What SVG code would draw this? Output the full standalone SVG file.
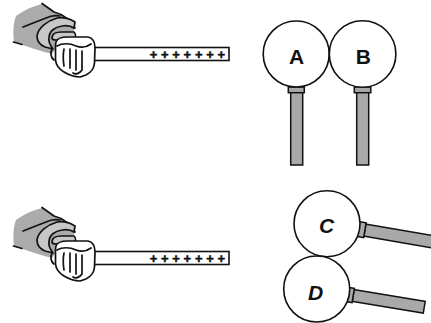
<svg xmlns="http://www.w3.org/2000/svg" width="431" height="323" viewBox="0 0 431 323">
  <style>
    .ln { fill: none; stroke: #111; stroke-width: 1.7; stroke-linecap: round; stroke-linejoin: round; }
    .rod { fill: #fff; stroke: #111; stroke-width: 1.6; }
    .sleeve { fill: #ababab; stroke: none; }
    .cuff { fill: #c8c8c8; stroke: #111; stroke-width: 1.7; stroke-linejoin: round; }
    .skin { fill: #fff; stroke: #111; stroke-width: 1.7; stroke-linejoin: round; }
    .ball { fill: #fff; stroke: #111; stroke-width: 1.6; }
    .stem { fill: #a9a9a9; stroke: #111; stroke-width: 1.5; }
    .plus { font-family: "Liberation Sans", Arial, sans-serif; font-weight: bold; font-size: 13px; fill: #111; stroke: #111; stroke-width: 0.5; text-anchor: middle; }
    .lbl { font-family: "Liberation Sans", Arial, sans-serif; font-weight: bold; font-size: 21px; fill: #111; text-anchor: middle; }
    .ital { font-style: italic; }
  </style>
  <defs>
    <!-- hand gripping a positively charged rod -->
    <g id="rodHand">
      <rect class="rod" x="88" y="47.5" width="141" height="13"/>
      <g>
        <text class="plus" x="153.5" y="58.8">+</text>
        <text class="plus" x="164.8" y="58.8">+</text>
        <text class="plus" x="176.1" y="58.8">+</text>
        <text class="plus" x="187.4" y="58.8">+</text>
        <text class="plus" x="198.7" y="58.8">+</text>
        <text class="plus" x="210" y="58.8">+</text>
        <text class="plus" x="221.3" y="58.8">+</text>
      </g>
      <!-- sleeve -->
      <path class="sleeve" d="M16,16 C24,10 33,6 42,4 L54,12 C62,15 70,20 75,28 L70,40 C62,44 56,48 52,54 C40,51 26,46 14,42 C13,33 13,24 16,16 Z"/>
      <path class="ln" d="M42,3.5 L54,12 C62,14 70,20 75,28"/>
      <path class="ln" d="M23,27 L46,18 C50,16 55,15 60,16"/>
      <path class="ln" d="M13.5,42 L22,44.5"/>
      <!-- cuff -->
      <path class="cuff" d="M57,18 C47,21 38,28 37,36 C37,41 40,45 45,47 L53,49 C50,45 48,42 49,38 C49,31 55,27 62,26 C67,25 71,26 74,28 L75,22 C70,19 63,17 57,18 Z"/>
      <path class="cuff" d="M52,38 C52,34 56,32 61,32 L74,32 C76,34 76,37 74,39 L56,40 C54,40 52,40 52,38 Z"/>
      <!-- fist -->
      <path class="skin" d="M56,42 C57,38 62,37 68,37 L88,37 C93,38 95,42 95,48 L94.5,63 C94,69 90,73 86,75 L80,77 C74,77 69,75 64,72 C59,69 56,66 55.5,60 L55.5,47 C55.5,45 55.7,43 56,42 Z"/>
      <path class="ln" d="M57,46 C62,43 70,43 76,46 C81,48 87,47 91,44"/>
      <path class="ln" d="M64,49 C63,54 63,60 64,66"/>
      <path class="ln" d="M70,49 L70,68"/>
      <path class="ln" d="M76,50 L76,70"/>
      <path class="ln" d="M82,51 L82,70 C80,73 76,75 73,73"/>
      <path class="ln" d="M52,49 C50,53 51,58 54,60"/>
    </g>
  </defs>

  <g id="hand-top">
    <use href="#rodHand"/>
  </g>
  <g id="hand-bottom">
    <use href="#rodHand" transform="translate(0,204)"/>
  </g>

  <g id="connectors"></g>

  <!-- sphere A on vertical insulating stand -->
  <g id="sphere-a">
    <rect class="stem" x="290.7" y="92" width="12" height="73"/>
    <rect class="stem" x="288.3" y="87" width="16" height="5.7"/>
    <circle class="ball" cx="296.2" cy="54" r="33"/>
    <text class="lbl" x="296.7" y="63.5">A</text>
  </g>

  <!-- sphere B on vertical insulating stand -->
  <g id="sphere-b">
    <rect class="stem" x="356.7" y="92" width="12" height="73"/>
    <rect class="stem" x="354.3" y="87" width="16.5" height="5.7"/>
    <circle class="ball" cx="362.6" cy="54" r="33.3"/>
    <text class="lbl" x="363.3" y="63.5">B</text>
  </g>

  <!-- sphere C on tilted stand -->
  <g id="sphere-c">
    <g transform="translate(358,229) rotate(9.7)">
      <rect class="stem" x="7" y="-6.1" width="90" height="12.2"/>
      <rect class="stem" x="0" y="-7.5" width="7" height="15"/>
    </g>
    <circle class="ball" cx="327" cy="223.7" r="33"/>
    <text class="lbl ital" x="326.7" y="233.3">C</text>
  </g>

  <!-- sphere D on tilted stand -->
  <g id="sphere-d">
    <g transform="translate(347.3,294.5) rotate(9.4)">
      <rect class="stem" x="6" y="-6" width="72" height="12"/>
      <rect class="stem" x="0" y="-7.2" width="6" height="14.4"/>
    </g>
    <circle class="ball" cx="316.7" cy="289" r="33"/>
    <text class="lbl ital" x="315.5" y="300">D</text>
  </g>
</svg>
